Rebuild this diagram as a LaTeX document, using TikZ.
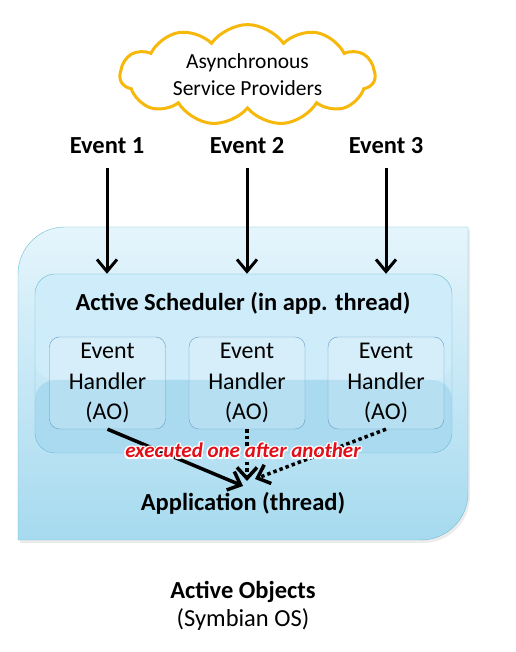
\documentclass[tikz,border=0pt]{standalone}
\usepackage{fontspec}
\setmainfont{Carlito}
\usetikzlibrary{shapes.symbols,arrows.meta,shadows}

\definecolor{cloudline}{RGB}{247,184,12}
\definecolor{boxtop}{RGB}{229,245,252}
\definecolor{boxbottom}{RGB}{166,218,239}
\definecolor{boxline}{RGB}{104,188,212}
\definecolor{glosslight}{RGB}{206,236,249}
\definecolor{glossdark}{RGB}{170,218,239}
\definecolor{handlerline}{RGB}{104,156,200}
\definecolor{execred}{RGB}{226,14,24}

\begin{document}
\begin{tikzpicture}[x=1pt, y=1pt,
    cloudbox/.style={cloud, cloud puffs=11, cloud puff arc=110, aspect=2.9, draw=cloudline, line width=3pt, fill=white, minimum width=255pt, minimum height=84pt, inner sep=0pt, align=center, font=\fontsize{21.5}{27}\selectfont},
    boldlabel/.style={font=\bfseries\fontsize{24.5}{29}\selectfont, inner sep=0pt, anchor=base},
    plainlabel/.style={font=\fontsize{24.5}{29}\selectfont, inner sep=0pt, anchor=base},
    evarrow/.style={-{Straight Barb[length=12pt, width=20pt]}, line width=3pt},
    execarrow/.style={-{Straight Barb[length=11pt, width=20pt]}, line width=3.5pt},
    execdots/.style={execarrow, dash pattern=on 3.5pt off 3pt},
    schedbox/.style={rounded corners=20pt, draw=boxline, minimum width=417pt, minimum height=179pt,
        path picture={\fill[glosslight] (path picture bounding box.north west) rectangle (path picture bounding box.east |- gloss);
                      \fill[glossdark] (path picture bounding box.south west) rectangle (path picture bounding box.east |- gloss);}},
    handler/.style={rounded corners=10pt, draw=handlerline, fill=white, fill opacity=0.15, text opacity=1, minimum width=116pt, minimum height=92pt, align=center, inner sep=0pt, font=\fontsize{24}{30.5}\selectfont},
    exectext/.style={font=\bfseries\itshape\fontsize{21}{24}\selectfont, inner sep=0pt, anchor=base}
]
    \useasboundingbox (0,0) rectangle (515,652);
    \fill[white] (0,0) rectangle (515,652);

    \draw[boxline, top color=boxtop, bottom color=boxbottom, drop shadow={opacity=0.15, shadow xshift=2pt, shadow yshift=-3pt}]
        (18,112) -- (18,378) arc[start angle=180, end angle=90, radius=47] -- (468,425)
        -- (468,159) arc[start angle=0, end angle=-90, radius=47] -- cycle;

    \node[cloudbox] (asp) at (247.5,577) {Asynchronous\\Service Providers};

    \node[boldlabel] (e1) at (107,498) {Event 1};
    \node[boldlabel] (e2) at (247,498) {Event 2};
    \node[boldlabel] (e3) at (386,498) {Event 3};

    \coordinate (gloss) at (0,272);
    \node[schedbox] (sch) at (243.5,288.5) {};
    \node[boldlabel] (stitle) at (243,341) {Active Scheduler (in app. thread)};

    \node[handler] (h1) at (107.5,269) {Event\\Handler\\(AO)};
    \node[handler] (h2) at (247,269) {Event\\Handler\\(AO)};
    \node[handler] (h3) at (386,269) {Event\\Handler\\(AO)};

    \draw[evarrow, shorten <=14pt] (e1.base) -- (e1.base |- sch.north);
    \draw[evarrow, shorten <=14pt] (e2.base) -- (e2.base |- sch.north);
    \draw[evarrow, shorten <=14pt] (e3.base) -- (e3.base |- sch.north);

    \coordinate (meet1) at (243,166);
    \coordinate (meet2) at (247,171);
    \coordinate (meet3) at (255,173);
    \draw[execarrow] (h1.south) -- (meet1);
    \draw[execdots] (h2.south) -- (meet2);
    \draw[execdots] (h3.south) -- (meet3);

    \foreach \dx/\dy in {-1.5/0, 1.5/0, 0/1.5, 0/-1.5, -1.1/1.1, 1.1/1.1, -1.1/-1.1, 1.1/-1.1}
        \node[exectext, white] at (243+\dx,194+\dy) {executed one after another};
    \node[exectext, execred] (exec) at (243,194) {executed one after another};

    \node[boldlabel] (app) at (243,141) {Application (thread)};

    \node[boldlabel] (title) at (243,53) {Active Objects};
    \node[plainlabel] (os) at (243,25) {(Symbian OS)};
\end{tikzpicture}
\end{document}
